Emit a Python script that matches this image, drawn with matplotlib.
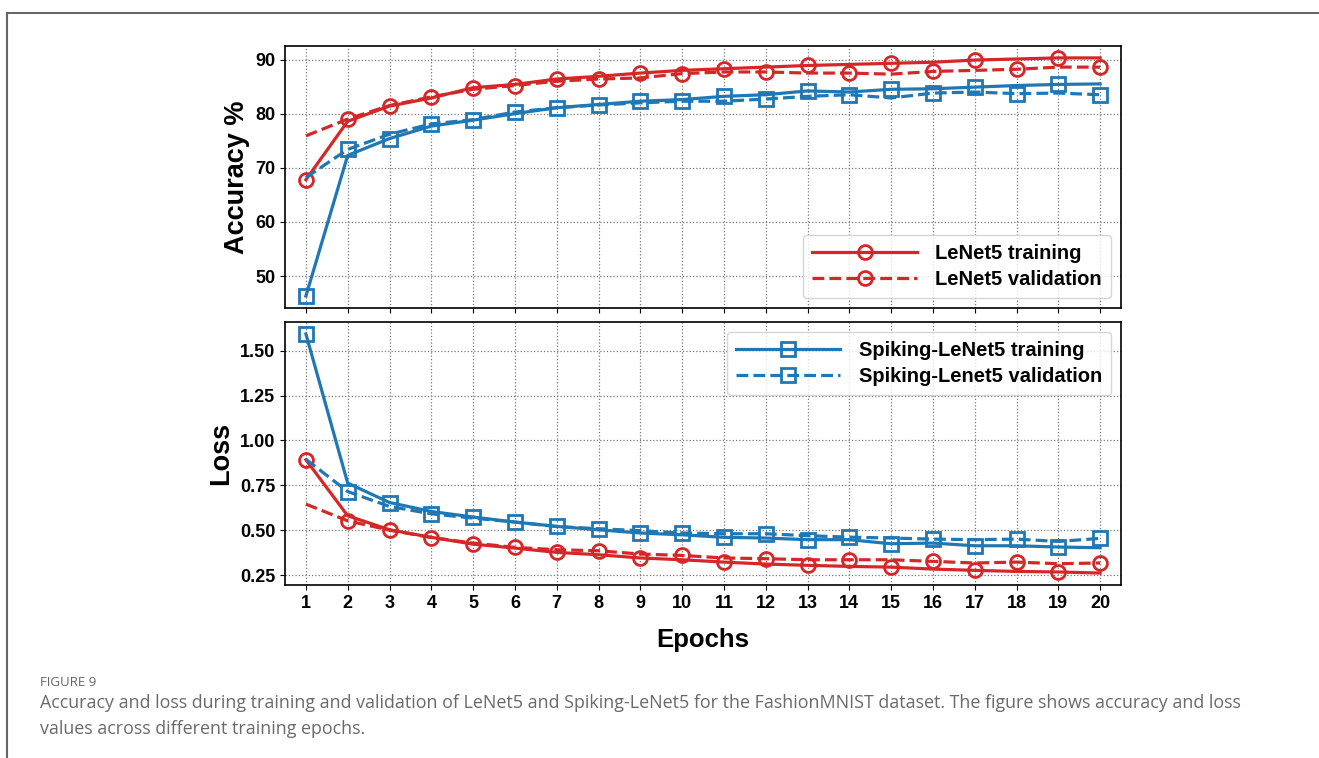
import matplotlib

matplotlib.use("Agg")
import matplotlib.pyplot as plt
from matplotlib.lines import Line2D

epochs = list(range(1, 21))

lenet_acc_train = [67.8, 78.6, 81.4, 82.9, 84.8, 85.4, 86.4, 86.9, 87.5, 88.0,
                   88.3, 88.6, 88.9, 89.1, 89.3, 89.5, 89.9, 90.1, 90.3, 90.3]
lenet_acc_val = [75.9, 79.0, 81.5, 83.1, 84.5, 85.2, 86.0, 86.4, 86.6, 87.4,
                 87.7, 87.7, 87.5, 87.5, 87.3, 87.8, 88.0, 88.2, 88.6, 88.6]
spiking_acc_train = [46.3, 72.3, 75.4, 77.7, 78.8, 80.0, 81.1, 81.7, 82.3, 82.6,
                     83.2, 83.5, 84.2, 84.0, 84.5, 84.6, 84.9, 85.2, 85.4, 85.5]
spiking_acc_val = [68.2, 73.4, 76.2, 78.1, 78.9, 80.3, 81.1, 81.6, 82.0, 82.3,
                   82.3, 82.7, 83.2, 83.5, 82.9, 83.8, 84.0, 83.7, 83.8, 83.5]

lenet_loss_train = [0.892, 0.580, 0.502, 0.460, 0.422, 0.400, 0.376, 0.363, 0.345, 0.335,
                    0.322, 0.311, 0.304, 0.298, 0.294, 0.283, 0.276, 0.270, 0.267, 0.261]
lenet_loss_val = [0.645, 0.552, 0.500, 0.459, 0.428, 0.404, 0.391, 0.385, 0.367, 0.359,
                  0.345, 0.341, 0.335, 0.335, 0.335, 0.326, 0.317, 0.322, 0.313, 0.317]
spiking_loss_train = [1.593, 0.762, 0.654, 0.604, 0.573, 0.545, 0.521, 0.502, 0.484, 0.474,
                      0.460, 0.456, 0.447, 0.447, 0.424, 0.428, 0.413, 0.413, 0.406, 0.402]
spiking_loss_val = [0.895, 0.715, 0.632, 0.591, 0.567, 0.545, 0.520, 0.508, 0.497, 0.484,
                    0.480, 0.480, 0.469, 0.461, 0.456, 0.450, 0.447, 0.450, 0.437, 0.454]

acc_ticks = [50, 60, 70, 80, 90]
loss_ticks = [0.25, 0.50, 0.75, 1.00, 1.25, 1.50]

labels_lenet = ["LeNet5 training", "LeNet5 validation"]
labels_spiking = ["Spiking-LeNet5 training", "Spiking-Lenet5 validation"]

caption_head = "FIGURE 9"
caption_body = (
    "Accuracy and loss during training and validation of LeNet5 and Spiking-LeNet5 for the FashionMNIST dataset. The figure shows accuracy and loss\n"
    "values across different training epochs."
)

RED = "#d62728"
BLUE = "#1f77b4"

plt.rcParams["font.family"] = ["Liberation Sans", "DejaVu Sans"]

fig = plt.figure(figsize=(13.19, 7.58), dpi=100, facecolor="white")
ax_acc = fig.add_axes([285 / 1319, 1 - 308 / 758, 836 / 1319, 262 / 758])
ax_loss = fig.add_axes([285 / 1319, 1 - 585 / 758, 836 / 1319, 263 / 758], sharex=ax_acc)


def draw_series(axis, lenet, spiking):
    style = dict(linewidth=2.3, markersize=10, markerfacecolor="none", markeredgewidth=2)
    lines = []
    for values, color, marker in ((lenet, RED, "o"), (spiking, BLUE, "s")):
        train, val = values
        lines.append(axis.plot(epochs, train, color=color, marker=marker, linestyle="-",
                               markevery=(0, 2), **style)[0])
        lines.append(axis.plot(epochs, val, color=color, marker=marker, linestyle="--",
                               markevery=(1, 2), **style)[0])
    return lines


def legend_proxies(color, marker):
    style = dict(color=color, marker=marker, linewidth=2.3, markersize=10,
                 markerfacecolor="none", markeredgewidth=2)
    return [Line2D([], [], linestyle="-", **style), Line2D([], [], linestyle="--", **style)]


draw_series(ax_acc, (lenet_acc_train, lenet_acc_val), (spiking_acc_train, spiking_acc_val))
draw_series(ax_loss, (lenet_loss_train, lenet_loss_val), (spiking_loss_train, spiking_loss_val))

for axis in (ax_acc, ax_loss):
    axis.set_xlim(0.5, 20.5)
    axis.grid(True, linestyle=":", color="#777777", linewidth=0.9)
    axis.tick_params(labelsize=13)
    for spine in axis.spines.values():
        spine.set_color("black")
        spine.set_linewidth(1.2)

ax_acc.set_xticks(epochs)
ax_acc.tick_params(labelbottom=False)
ax_acc.set_yticks(acc_ticks)
ax_acc.set_yticklabels([str(t) for t in acc_ticks], fontweight="bold")
ax_loss.set_yticks(loss_ticks)
ax_loss.set_yticklabels([f"{t:.2f}" for t in loss_ticks], fontweight="bold")
ax_loss.set_xticklabels([str(e) for e in epochs], fontweight="bold")

ax_acc.set_ylabel("Accuracy %", fontsize=19.5, fontweight="bold")
ax_loss.set_ylabel("Loss", fontsize=19.5, fontweight="bold")
ax_loss.set_xlabel("Epochs", fontsize=18.5, fontweight="bold", labelpad=12)
fig.align_ylabels([ax_acc, ax_loss])

legend_kw = dict(prop={"size": 14.5, "weight": "bold"}, handlelength=5.2,
                 handletextpad=0.9, labelspacing=0.35, borderpad=0.45)
ax_acc.legend(legend_proxies(RED, "o"), labels_lenet, loc="lower right", **legend_kw)
ax_loss.legend(legend_proxies(BLUE, "s"), labels_spiking, loc="upper right", **legend_kw)

# page frame and caption
fig.add_artist(Line2D([7 / 1319, 7 / 1319], [0, 1 - 13 / 758], color="#666666", linewidth=1.5))
fig.add_artist(Line2D([7 / 1319, 1], [1 - 13 / 758, 1 - 13 / 758], color="#666666", linewidth=1.5))
fig.text(40 / 1319, 1 - 683 / 758, caption_head, fontsize=9.5, color="#666666",
         family=["Open Sans", "DejaVu Sans"], va="center")
fig.text(40 / 1319, 1 - 694 / 758, caption_body, fontsize=12.9, color="#6a6a6a",
         family=["Open Sans", "DejaVu Sans"], va="top", linespacing=1.55)

fig.savefig("out.png", dpi=100, facecolor="white")
